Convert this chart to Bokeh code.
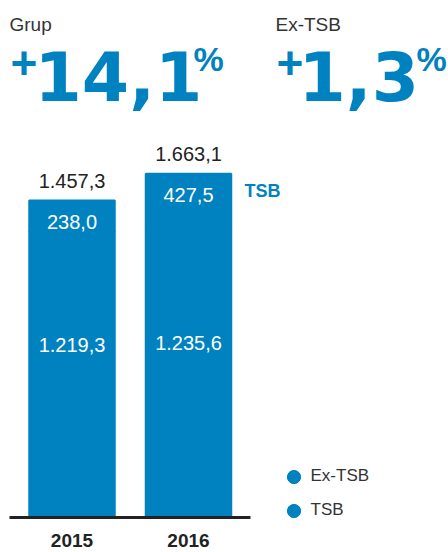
from bokeh.plotting import figure
from bokeh.models import Label, Legend, LegendItem, Range1d, ColumnDataSource
from bokeh.core.properties import value
from bokeh.embed import file_html
from bokeh.resources import INLINE

# ---- data ----
years = ["2015", "2016"]
ex_tsb = [1219.3, 1235.6]
tsb = [238.0, 427.5]
totals = [1457.3, 1663.1]
ex_labels = ["1.219,3", "1.235,6"]
tsb_labels = ["238,0", "427,5"]
total_labels = ["1.457,3", "1.663,1"]
headline_titles = ["Grup", "Ex-TSB"]
headline_values = ["14,1", "1,3"]
series = ["Ex-TSB", "TSB"]

# ---- style ----
BLUE = "#0082C0"
DARK = "#222222"
GREY = "#333333"
FONT = "Liberation Sans"
BIG = "DejaVu Sans"
BASE = -986          # value at the drawn baseline (chart is not zero-based)
W, H = 448, 552

xs = list(range(len(years)))
src = ColumnDataSource(dict(x=xs, ex=ex_tsb, tsb=tsb, total=totals,
                            base=[BASE] * len(years), years=years,
                            exl=ex_labels, tsbl=tsb_labels, totl=total_labels))

p = figure(width=W, height=H, output_backend="svg", toolbar_location=None,
           x_axis_type=None, y_axis_type=None, min_border=0,
           x_range=Range1d(-0.6137, 3.2318), y_range=Range1d(-1255.8, 2998.9))
p.outline_line_color = None
p.background_fill_color = "white"
p.border_fill_color = "white"

# bars (stacked: ex-TSB from baseline, TSB on top, same colour)
p.vbar(x="x", bottom="base", top="ex", width=0.734, source=src,
       fill_color=BLUE, line_color=BLUE, line_width=2)
p.vbar(x="x", bottom="ex", top="total", width=0.734, source=src,
       fill_color=BLUE, line_color=BLUE, line_width=2)

# baseline
p.segment(x0=[-0.5365], y0=[BASE], x1=[len(years) - 1 + 0.532], y1=[BASE],
          line_color=DARK, line_width=3)

# value labels
p.text(x="x", y="total", text="totl", source=src, text_align="center",
       text_baseline="middle", y_offset=-20, text_font=value(FONT),
       text_font_size="20px", text_color=DARK)
p.text(x="x", y="total", text="tsbl", source=src, text_align="center",
       text_baseline="middle", y_offset=21, text_font=value(FONT),
       text_font_size="20px", text_color="white")
p.text(x="x", y="ex", text="exl", source=src, text_align="center",
       text_baseline="middle", y_offset=114, text_font=value(FONT),
       text_font_size="20px", text_color="white")
p.text(x="x", y="base", text="years", source=src, text_align="center",
       text_baseline="middle", y_offset=23, text_font=value(FONT),
       text_font_size="19px", text_font_style="bold", text_color=DARK)

# "TSB" tag next to second bar
p.add_layout(Label(x=244, y=362, x_units="screen", y_units="screen", text=series[1],
                   text_font=FONT, text_font_size="18px", text_font_style="bold",
                   text_color=BLUE, text_baseline="middle"))

# headline block
for i, (title, val) in enumerate(zip(headline_titles, headline_values)):
    p.add_layout(Label(x=[9, 275][i], y=528, x_units="screen", y_units="screen", text=title,
                       text_font=FONT, text_font_size="19px", text_color=GREY,
                       text_baseline="middle"))
    p.add_layout(Label(x=[10, 276][i], y=490, x_units="screen", y_units="screen", text="+",
                       text_font=FONT, text_font_size="46px", text_font_style="bold",
                       text_color=BLUE, text_baseline="middle"))
    p.add_layout(Label(x=[34, 298][i], y=477, x_units="screen", y_units="screen", text=val,
                       text_font=BIG, text_font_size="68px", text_font_style="bold",
                       text_color=BLUE, text_baseline="middle"))
    p.add_layout(Label(x=[193, 416][i], y=494, x_units="screen", y_units="screen", text="%",
                       text_font=FONT, text_font_size="34px", text_font_style="bold",
                       text_color=BLUE, text_baseline="middle"))

# legend with round markers
nan = float("nan")
r_ex = p.scatter(x=[nan], y=[nan], marker="circle", size=13, fill_color=BLUE, line_color=BLUE)
r_tsb = p.scatter(x=[nan], y=[nan], marker="circle", size=13, fill_color=BLUE, line_color=BLUE)
legend = Legend(items=[LegendItem(label=series[0], renderers=[r_ex]),
                       LegendItem(label=series[1], renderers=[r_tsb])],
                location=(276.5, 25.5), glyph_width=33, glyph_height=33,
                spacing=1, padding=0, margin=0, label_standoff=1,
                label_text_font=FONT, label_text_font_size="17px",
                label_text_color=GREY, border_line_alpha=0,
                background_fill_alpha=0)
p.add_layout(legend)

open("out.html", "w").write(file_html(p, INLINE))
